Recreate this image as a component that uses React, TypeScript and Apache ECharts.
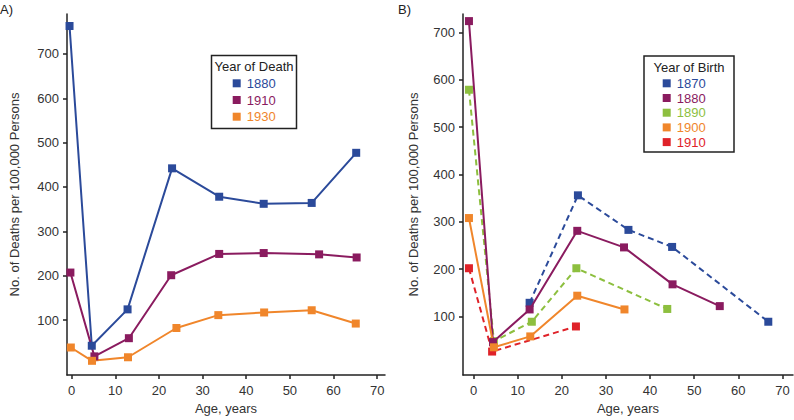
import React, { useEffect, useRef } from "react";
import * as echarts from "echarts";

// Panel A: Year of Death
const deathYears = ["1880", "1910", "1930"];
const deathColors = ["#2b4a9a", "#8a1b5f", "#f0862b"];
const agesA1880 = [-0.5, 4.6, 12.8, 23.0, 33.8, 44.0, 55.0, 65.2];
const valsA1880 = [763, 42, 124, 442, 378, 362, 364, 477];
const agesA1910 = [-0.3, 5.2, 13.1, 22.8, 33.8, 44.0, 56.7, 65.3];
const valsA1910 = [207, 18, 59, 201, 249, 251, 248, 241];
const agesA1930 = [-0.2, 4.65, 12.9, 24.0, 33.6, 44.1, 55.0, 65.1];
const valsA1930 = [38, 8, 16, 82, 111, 117, 122, 92];

// Panel B: Year of Birth
const birthYears = ["1870", "1880", "1890", "1900", "1910"];
const birthColors = ["#2b4a9a", "#8a1b5f", "#8dbf3f", "#f0862b", "#df2229"];
const birthDashed = [true, false, true, false, true];
const agesB1870 = [12.7, 23.65, 35.1, 45.0, 66.8];
const valsB1870 = [129, 356, 283, 247, 89];
const agesB1880 = [-1.05, 4.4, 12.7, 23.5, 34.1, 45.1, 55.8];
const valsB1880 = [724, 46, 115, 281, 246, 168, 122];
const agesB1890 = [-1.05, 4.6, 13.2, 23.3, 43.9];
const valsB1890 = [579, 48, 89, 202, 116];
const agesB1900 = [-1.05, 4.6, 12.85, 23.5, 34.2];
const valsB1900 = [308, 35, 58, 144, 115];
const agesB1910 = [-1.05, 4.2, 23.2];
const valsB1910 = [202, 26, 79];

const xTicks = [0, 10, 20, 30, 40, 50, 60, 70];
const yTicksA = [100, 200, 300, 400, 500, 600, 700];
const yTicksB = [100, 200, 300, 400, 500, 600, 700];

const yTitle = "No. of Deaths per 100,000 Persons";
const xTitle = "Age, years";

const FONT = "Liberation Sans, Arial, Helvetica, sans-serif";

const zip = (xs: number[], ys: number[]) => xs.map((x, i) => [x, ys[i]]);

export default function App() {
  const ref = useRef<HTMLDivElement>(null);
  useEffect(() => {
    if (!ref.current) return;
    const chart = echarts.init(ref.current, null, { renderer: "svg" });

    const axisCommon = {
      axisLine: { show: true, onZero: false, lineStyle: { color: "#222", width: 1.5 } },
      axisTick: { show: true, length: 4, lineStyle: { color: "#222", width: 1.5 } },
      splitLine: { show: false },
      axisLabel: { color: "#333", fontSize: 13, fontFamily: FONT },
      nameTextStyle: { color: "#333", fontSize: 13, fontFamily: FONT },
    };

    const mkX = (gridIndex: number, min: number, max: number) => ({
      type: "value",
      gridIndex,
      min,
      max,
      name: xTitle,
      nameLocation: "middle",
      nameGap: 27,
      ...axisCommon,
      axisTick: { ...axisCommon.axisTick, customValues: xTicks },
      axisLabel: { ...axisCommon.axisLabel, margin: 9, customValues: xTicks },
    });
    const mkY = (gridIndex: number, min: number, max: number, ticks: number[], gap: number) => ({
      type: "value",
      gridIndex,
      min,
      max,
      name: yTitle,
      nameLocation: "middle",
      nameGap: gap,
      ...axisCommon,
      axisTick: { ...axisCommon.axisTick, customValues: ticks },
      axisLabel: { ...axisCommon.axisLabel, margin: 8, customValues: ticks },
    });

    const lineSeries = (
      name: string,
      color: string,
      data: number[][],
      idx: number,
      dashed: boolean
    ) => ({
      type: "line",
      name,
      xAxisIndex: idx,
      yAxisIndex: idx,
      data,
      symbol: "rect",
      symbolSize: 8,
      lineStyle: { color, width: 2, type: dashed ? [6, 4] : "solid" },
      itemStyle: { color },
      z: dashed ? 2 : 3,
    });

    const dataA = [zip(agesA1880, valsA1880), zip(agesA1910, valsA1910), zip(agesA1930, valsA1930)];
    const dataB = [
      zip(agesB1870, valsB1870),
      zip(agesB1880, valsB1880),
      zip(agesB1890, valsB1890),
      zip(agesB1900, valsB1900),
      zip(agesB1910, valsB1910),
    ];

    const series: any[] = [];
    deathYears.forEach((n, i) => series.push(lineSeries(n, deathColors[i], dataA[i], 0, false)));
    birthYears.forEach((n, i) =>
      series.push(lineSeries(n, birthColors[i], dataB[i], 1, birthDashed[i]))
    );

    const legendBox = (
      x: number,
      y: number,
      w: number,
      h: number,
      title: string,
      names: string[],
      colors: string[],
      firstY: number,
      step: number,
      markX: number
    ) => ({
      type: "group",
      children: [
        {
          type: "rect",
          shape: { x, y, width: w, height: h },
          style: { fill: "#fff", stroke: "#222", lineWidth: 1.5 },
        },
        {
          type: "text",
          x: x + w / 2,
          y: y + 11,
          style: {
            text: title,
            fill: "#222",
            fontSize: 13,
            fontFamily: FONT,
            align: "center",
            verticalAlign: "middle",
          },
        },
        ...names.flatMap((n, i) => [
          {
            type: "rect",
            shape: { x: markX - 4, y: firstY + i * step - 4, width: 8, height: 8 },
            style: { fill: colors[i] },
          },
          {
            type: "text",
            x: markX + 10,
            y: firstY + i * step,
            style: {
              text: n,
              fill: colors[i],
              fontSize: 13,
              fontFamily: FONT,
              align: "left",
              verticalAlign: "middle",
            },
          },
        ]),
      ],
    });

    chart.setOption({
      animation: false,
      textStyle: { fontFamily: FONT },
      grid: [
        { left: 67, top: 14, width: 318, height: 365, containLabel: false },
        { left: 463, top: 14, width: 330, height: 366, containLabel: false },
      ],
      xAxis: [mkX(0, -1.08, 71.8), mkX(1, -2.4, 72.4)],
      yAxis: [mkY(0, -24, 790, yTicksA, 46), mkY(1, -23.5, 739, yTicksB, 43)],
      series,
      graphic: [
        {
          type: "text",
          left: 0,
          top: 3,
          style: { text: "A)", fill: "#222", fontSize: 13, fontFamily: FONT },
        },
        {
          type: "text",
          left: 398,
          top: 3,
          style: { text: "B)", fill: "#222", fontSize: 13, fontFamily: FONT },
        },
        legendBox(211.5, 55.5, 85, 73, "Year of Death", deathYears, deathColors, 83.3, 16.7, 236.7),
        legendBox(644, 56, 90, 96, "Year of Birth", birthYears, birthColors, 83.3, 14.7, 666.7),
      ],
    });
    return () => chart.dispose();
  }, []);
  return <div ref={ref} style={{ width: 794, height: 420, position: "absolute", left: 0, top: 0 }} />;
}
